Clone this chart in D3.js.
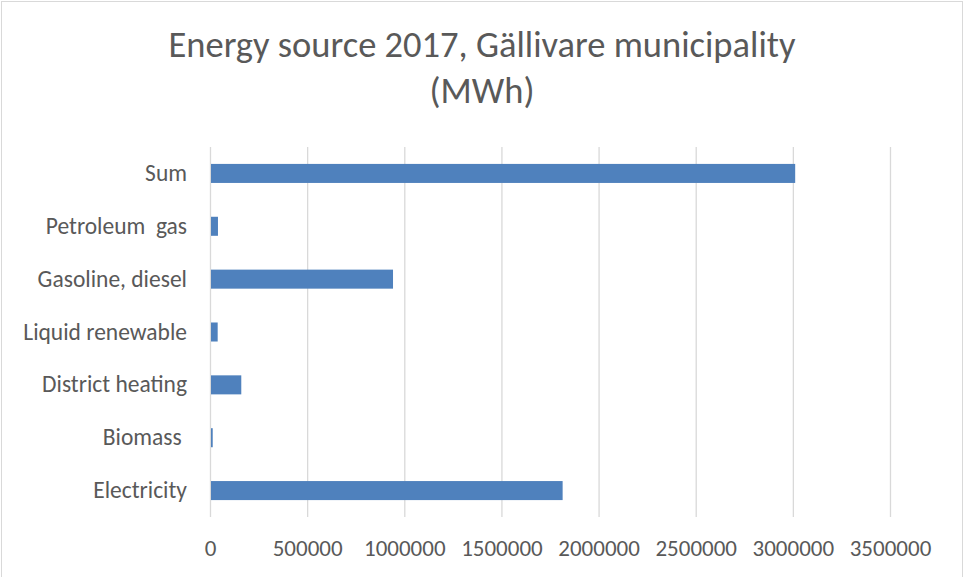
<!DOCTYPE html>
<html>
<head>
<meta charset="utf-8">
<script src="https://cdn.jsdelivr.net/npm/d3@7"></script>
<style>
  html, body { margin: 0; padding: 0; background: #fff; }
  svg text { font-family: Carlito, Lato, "DejaVu Sans", sans-serif; fill: #595959; }
</style>
</head>
<body>
<svg id="chart" width="966" height="577"></svg>
<script>
// Energy use by source, Gällivare municipality 2017 (MWh)
const categories = ["Electricity", "Biomass ", "District heating", "Liquid renewable", "Gasoline, diesel", "Petroleum  gas", "Sum"];
const values = [1815000, 14000, 161000, 39500, 942000, 41000, 3012000];
const tickValues = [0, 500000, 1000000, 1500000, 2000000, 2500000, 3000000, 3500000];
const titleLines = ["Energy source 2017, Gällivare municipality", "(MWh)"];

const W = 966, H = 577;
const margin = { left: 210, right: 76, top: 147, bottom: 60 };

const svg = d3.select("#chart");

// outer chart frame
svg.append("rect")
  .attr("x", 1.5).attr("y", 1.5)
  .attr("width", 961).attr("height", 580)
  .attr("fill", "#fff").attr("stroke", "#d9d9d9").attr("stroke-width", 1);

const x = d3.scaleLinear().domain([0, 3500000]).range([margin.left, W - margin.right]);
const y = d3.scaleBand()
  .domain(categories.slice().reverse())
  .range([margin.top, H - margin.bottom])
  .paddingInner(0.64).paddingOuter(0.32);

// vertical gridlines
svg.append("g").selectAll("line")
  .data(tickValues)
  .join("line")
  .attr("x1", d => x(d) + 0.5).attr("x2", d => x(d) + 0.5)
  .attr("y1", margin.top).attr("y2", H - margin.bottom)
  .attr("stroke", "#d9d9d9").attr("stroke-width", 1.3);

// bars
svg.append("g").selectAll("rect")
  .data(categories.map((c, i) => ({ c, v: values[i] })))
  .join("rect")
  .attr("x", x(0) + 1)
  .attr("y", d => y(d.c))
  .attr("width", d => Math.max(0, x(d.v) - x(0) - 1))
  .attr("height", y.bandwidth())
  .attr("fill", "#4f81bd");

// x axis tick labels
const xAxis = d3.axisBottom(x).tickValues(tickValues).tickSize(0).tickPadding(0).tickFormat(d3.format("d"));
const gx = svg.append("g")
  .attr("transform", `translate(0,${H - margin.bottom})`)
  .call(xAxis);
gx.select(".domain").remove();
gx.selectAll("text")
  .attr("y", 39).attr("dy", 0)
  .style("font-size", "23px").attr("fill", "#595959");

// category labels
const yAxis = d3.axisLeft(y).tickSize(0).tickPadding(0);
const gy = svg.append("g")
  .attr("transform", `translate(${margin.left - 23},0)`)
  .call(yAxis);
gy.select(".domain").remove();
gy.selectAll("text")
  .style("font-size", "23.5px").attr("fill", "#595959")
  .style("white-space", "pre").attr("xml:space", "preserve");

// title
svg.append("text")
  .attr("text-anchor", "middle")
  .attr("x", 482)
  .style("font-size", "36.5px")
  .style("font-weight", 300)
  .selectAll("tspan")
  .data(titleLines)
  .join("tspan")
  .attr("x", 482)
  .attr("y", (d, i) => 57 + i * 46)
  .text(d => d);
</script>
</body>
</html>
